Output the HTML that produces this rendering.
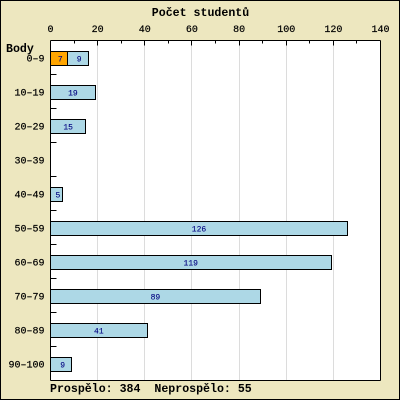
<!DOCTYPE html>
<html>
<head>
<meta charset="utf-8">
<style>
html,body{margin:0;padding:0;width:400px;height:400px;overflow:hidden;background:#ede7bf}
svg{display:block}
text{font-family:"Liberation Mono","DejaVu Sans Mono",monospace;fill:#000}
</style>
</head>
<body>
<svg id="chart" width="400" height="400" viewBox="0 0 400 400" xmlns="http://www.w3.org/2000/svg">
<rect x="0.5" y="0.5" width="399" height="399" fill="#ede7bf" stroke="#000" stroke-width="1"/>
<rect x="50.5" y="40.5" width="330" height="340" fill="#fff"/>
<text x="200.5" y="16" text-anchor="middle" font-size="11.6" font-weight="bold">Počet studentů</text>
<text x="6" y="52" font-size="11.6" font-weight="bold">Body</text>
<text x="50" y="392" font-size="11.6" font-weight="bold" xml:space="preserve">Prospělo: 384  Neprospělo: 55</text>
</svg>
<script>
const categories = ['0–9','10–19','20–29','30–39','40–49','50–59','60–69','70–79','80–89','90–100'];
const failedValues = [7,0,0,0,0,0,0,0,0,0];
const passedValues = [9,19,15,0,5,126,119,89,41,9];
const xTickLabels = [0,20,40,60,80,100,120,140];
const xMinorTicks = [10,30,50,70,90,110,130];

const svg = document.getElementById('chart');
const NS = 'http://www.w3.org/2000/svg';
const left = 50.5, right = 380.5, top0 = 40.5, bottom = 380.5, xMax = 140;
const xScale = v => 50 + v * (right - left) / xMax;
const xPixel = v => Math.round(xScale(v)) + 0.5;
const bandH = (bottom - top0) / categories.length;
const yBand = i => top0 + i * bandH;
const barH = 14;

function add(tag, attrs, text) {
  const el = document.createElementNS(NS, tag);
  for (const k in attrs) el.setAttribute(k, attrs[k]);
  if (text !== undefined) el.textContent = text;
  svg.appendChild(el);
  return el;
}

// gridlines
xTickLabels.forEach(v => {
  if (v === 0 || v === xMax) return;
  const g = add('line', {x1: xPixel(v), x2: xPixel(v), y1: top0, y2: bottom, stroke: '#dcdcdc', 'stroke-width': 1, 'shape-rendering': 'crispEdges'});
  
  
});

function drawBar(x0, v, y, fill, name) {
  const r = add('rect', {x: xPixel(x0), y: Math.floor(y) + 0.5, width: xPixel(x0 + v) - xPixel(x0), height: barH, fill: fill, stroke: '#000', 'stroke-width': 1, 'shape-rendering': 'crispEdges'});
  
  
  const off = String(v).length === 1 ? 2 : 0.5;
  const t = add('text', {x: xScale(x0 + v / 2) + off, y: Math.floor(y) + barH / 2 + 3.5, 'text-anchor': 'middle', 'font-size': 8, style: 'fill:#000080;stroke:#000080;stroke-width:0.1'}, String(v));
  
  
}

// bars
categories.forEach((c, i) => {
  const y = yBand(i) + (bandH - barH) / 2 + 0.5;
  const f = failedValues[i], p = passedValues[i];
  if (f > 0) drawBar(0, f, y, '#ffa500', 'bar-failed-' + c);
  if (p > 0) drawBar(f, p, y, '#add8e6', 'bar-passed-' + c);
});

// axes
[[left, top0, right, top0, 'x-axis-line'], [left, top0, left, bottom, 'y-axis-line'], [right, top0, right, bottom, 'right-border-line'], [left, bottom, right, bottom, 'bottom-border-line']].forEach(a => {
  const l = add('line', {x1: a[0], y1: a[1], x2: a[2], y2: a[3], stroke: '#000', 'stroke-width': 1, 'shape-rendering': 'crispEdges'});
  
  
});

// x ticks and labels
xTickLabels.forEach(v => {
  const x = xPixel(v);
  const t = add('line', {x1: x, x2: x, y1: top0, y2: top0 + 5, stroke: '#000', 'stroke-width': 1, 'shape-rendering': 'crispEdges'});
  
  
  const l = add('text', {x: xScale(v) + 0.5, y: 32, 'text-anchor': 'middle', 'font-size': 10, style: 'stroke:#000;stroke-width:0.2'}, String(v));
  
  
});
xMinorTicks.forEach(v => {
  const x = xPixel(v);
  const t = add('line', {x1: x, x2: x, y1: top0, y2: top0 + 3, stroke: '#000', 'stroke-width': 1, 'shape-rendering': 'crispEdges'});
  
  
});

// y ticks and labels
categories.forEach((c, i) => {
  if (i > 0) {
    const y = Math.floor(yBand(i)) + 0.5;
    const t = add('line', {x1: left, x2: left + 6, y1: y, y2: y, stroke: '#000', 'stroke-width': 1, 'shape-rendering': 'crispEdges'});
    
    
  }
  const l = add('text', {x: 44.5, y: yBand(i) + bandH / 2 + 4, 'text-anchor': 'end', 'font-size': 10, style: 'stroke:#000;stroke-width:0.2'}, c);
  
  
});
</script>
</body>
</html>
